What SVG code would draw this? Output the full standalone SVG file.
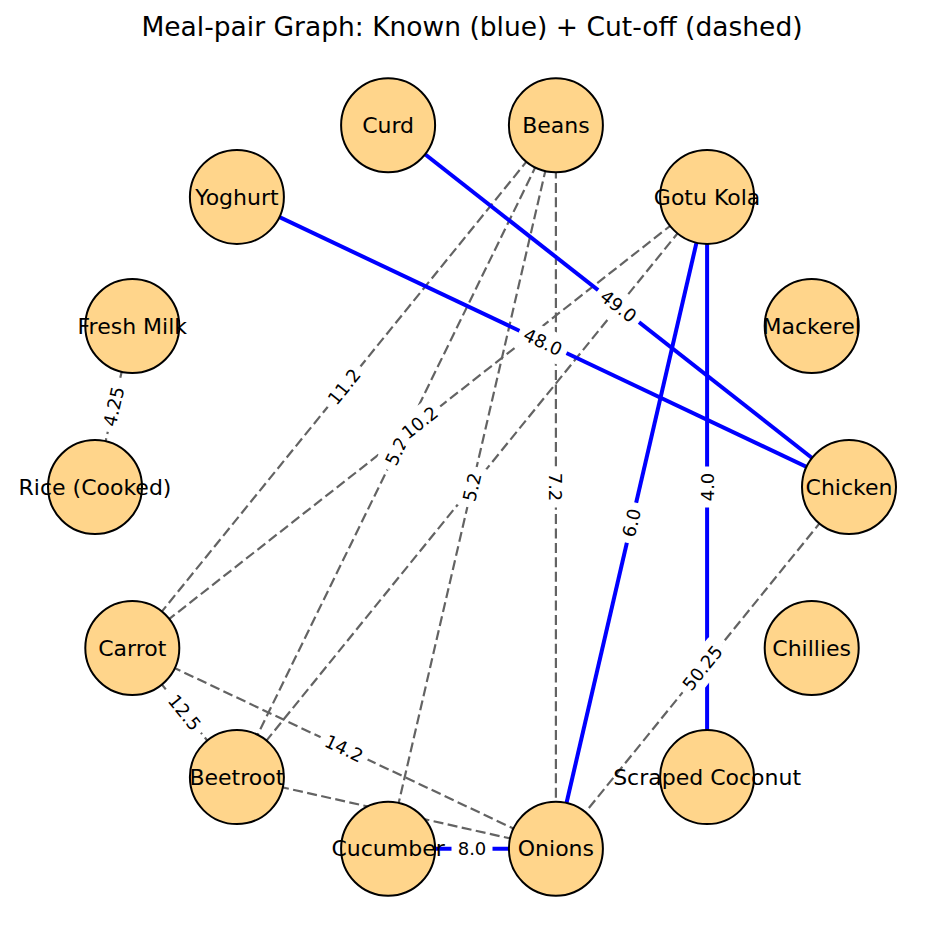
<svg xmlns="http://www.w3.org/2000/svg" width="944" height="941" viewBox="0 0 944 941">
<style>
.known{stroke:#0000ff;stroke-width:4;fill:none}
.cut{stroke:#636363;stroke-width:2.2;stroke-dasharray:10 4.4;fill:none}
.node circle{fill:#ffd58b;stroke:#000;stroke-width:2}
.node text{font-family:"DejaVu Sans",sans-serif;font-size:22px;text-anchor:middle;fill:#000}
.el rect{fill:#fff;stroke:#fff;stroke-width:1}
.el text{font-family:"DejaVu Sans",sans-serif;font-size:18px;text-anchor:middle;fill:#000}
.title{font-family:"DejaVu Sans",sans-serif;font-size:26.5px;text-anchor:middle;fill:#000}
</style>
<rect width="944" height="941" fill="#fff"/>
<text class="title" x="472" y="36">Meal-pair Graph: Known (blue) + Cut-off (dashed)</text>
<g id="connectors">
<line class="cut" x1="132.3" y1="326" x2="95" y2="487"/>
<line class="cut" x1="555.9" y1="125.3" x2="132.3" y2="648"/>
<line class="cut" x1="555.9" y1="125.3" x2="236.9" y2="777.1"/>
<line class="cut" x1="555.9" y1="125.3" x2="388.1" y2="848.7"/>
<line class="cut" x1="555.9" y1="125.3" x2="555.9" y2="848.7"/>
<line class="cut" x1="707.1" y1="196.9" x2="132.3" y2="648"/>
<line class="cut" x1="707.1" y1="196.9" x2="236.9" y2="777.1"/>
<line class="cut" x1="849" y1="487" x2="555.9" y2="848.7"/>
<line class="cut" x1="132.3" y1="648" x2="236.9" y2="777.1"/>
<line class="cut" x1="132.3" y1="648" x2="555.9" y2="848.7"/>
<line class="cut" x1="236.9" y1="777.1" x2="555.9" y2="848.7"/>
<line class="known" x1="388.1" y1="125.3" x2="849" y2="487"/>
<line class="known" x1="236.9" y1="196.9" x2="849" y2="487"/>
<line class="known" x1="707.1" y1="196.9" x2="555.9" y2="848.7"/>
<line class="known" x1="707.1" y1="196.9" x2="707.1" y2="777.1"/>
<line class="known" x1="388.1" y1="848.7" x2="555.9" y2="848.7"/>
<g id="edge-labels">
<g class="el" transform="translate(113.65,406.5) rotate(-76.96)"><rect x="-25.5" y="-14" width="51" height="28" rx="5"/><text y="6.5">4.25</text></g>
<g class="el" transform="translate(344.1,386.65) rotate(-50.98)"><rect x="-25.5" y="-14" width="51" height="28" rx="5"/><text y="6.5">11.2</text></g>
<g class="el" transform="translate(396.4,451.2) rotate(-63.92)"><rect x="-20" y="-14" width="40" height="28" rx="5"/><text y="6.5">5.2</text></g>
<g class="el" transform="translate(419.7,422.45) rotate(-38.12)"><rect x="-25.5" y="-14" width="51" height="28" rx="5"/><text y="6.5">10.2</text></g>
<g class="el" transform="translate(472,487) rotate(-76.94)"><rect x="-20" y="-14" width="40" height="28" rx="5"/><text y="6.5">5.2</text></g>
<g class="el" transform="translate(555.9,487) rotate(90)"><rect x="-20" y="-14" width="40" height="28" rx="5"/><text y="6.5">7.2</text></g>
<g class="el" transform="translate(702.45,667.85) rotate(-50.98)"><rect x="-31" y="-14" width="62" height="28" rx="5"/><text y="6.5">50.25</text></g>
<g class="el" transform="translate(184.6,712.55) rotate(50.98)"><rect x="-25.5" y="-14" width="51" height="28" rx="5"/><text y="6.5">12.5</text></g>
<g class="el" transform="translate(344.1,748.35) rotate(25.36)"><rect x="-25.5" y="-14" width="51" height="28" rx="5"/><text y="6.5">14.2</text></g>
<g class="el" transform="translate(618.55,306.15) rotate(38.12)"><rect x="-25.5" y="-14" width="51" height="28" rx="5"/><text y="6.5">49.0</text></g>
<g class="el" transform="translate(542.95,341.95) rotate(25.36)"><rect x="-25.5" y="-14" width="51" height="28" rx="5"/><text y="6.5">48.0</text></g>
<g class="el" transform="translate(631.5,522.8) rotate(-76.94)"><rect x="-20" y="-14" width="40" height="28" rx="5"/><text y="6.5">6.0</text></g>
<g class="el" transform="translate(707.1,487) rotate(-90)"><rect x="-20" y="-14" width="40" height="28" rx="5"/><text y="6.5">4.0</text></g>
<g class="el" transform="translate(472,848.7)"><rect x="-20" y="-14" width="40" height="28" rx="5"/><text y="6.5">8.0</text></g>
</g>
</g>
<g id="node-chicken" class="node"><circle cx="849" cy="487" r="47"/><text x="849" y="494.7">Chicken</text></g>
<g id="node-mackerel" class="node"><circle cx="811.7" cy="326" r="47"/><text x="811.7" y="333.7">Mackerel</text></g>
<g id="node-gotu-kola" class="node"><circle cx="707.1" cy="196.9" r="47"/><text x="707.1" y="204.6">Gotu Kola</text></g>
<g id="node-beans" class="node"><circle cx="555.9" cy="125.3" r="47"/><text x="555.9" y="133">Beans</text></g>
<g id="node-curd" class="node"><circle cx="388.1" cy="125.3" r="47"/><text x="388.1" y="133">Curd</text></g>
<g id="node-yoghurt" class="node"><circle cx="236.9" cy="196.9" r="47"/><text x="236.9" y="204.6">Yoghurt</text></g>
<g id="node-fresh-milk" class="node"><circle cx="132.3" cy="326" r="47"/><text x="132.3" y="333.7">Fresh Milk</text></g>
<g id="node-rice" class="node"><circle cx="95" cy="487" r="47"/><text x="95" y="494.7">Rice (Cooked)</text></g>
<g id="node-carrot" class="node"><circle cx="132.3" cy="648" r="47"/><text x="132.3" y="655.7">Carrot</text></g>
<g id="node-beetroot" class="node"><circle cx="236.9" cy="777.1" r="47"/><text x="236.9" y="784.8">Beetroot</text></g>
<g id="node-cucumber" class="node"><circle cx="388.1" cy="848.7" r="47"/><text x="388.1" y="856.4">Cucumber</text></g>
<g id="node-onions" class="node"><circle cx="555.9" cy="848.7" r="47"/><text x="555.9" y="856.4">Onions</text></g>
<g id="node-scraped-coconut" class="node"><circle cx="707.1" cy="777.1" r="47"/><text x="707.1" y="784.8">Scraped Coconut</text></g>
<g id="node-chillies" class="node"><circle cx="811.7" cy="648" r="47"/><text x="811.7" y="655.7">Chillies</text></g>
</svg>
